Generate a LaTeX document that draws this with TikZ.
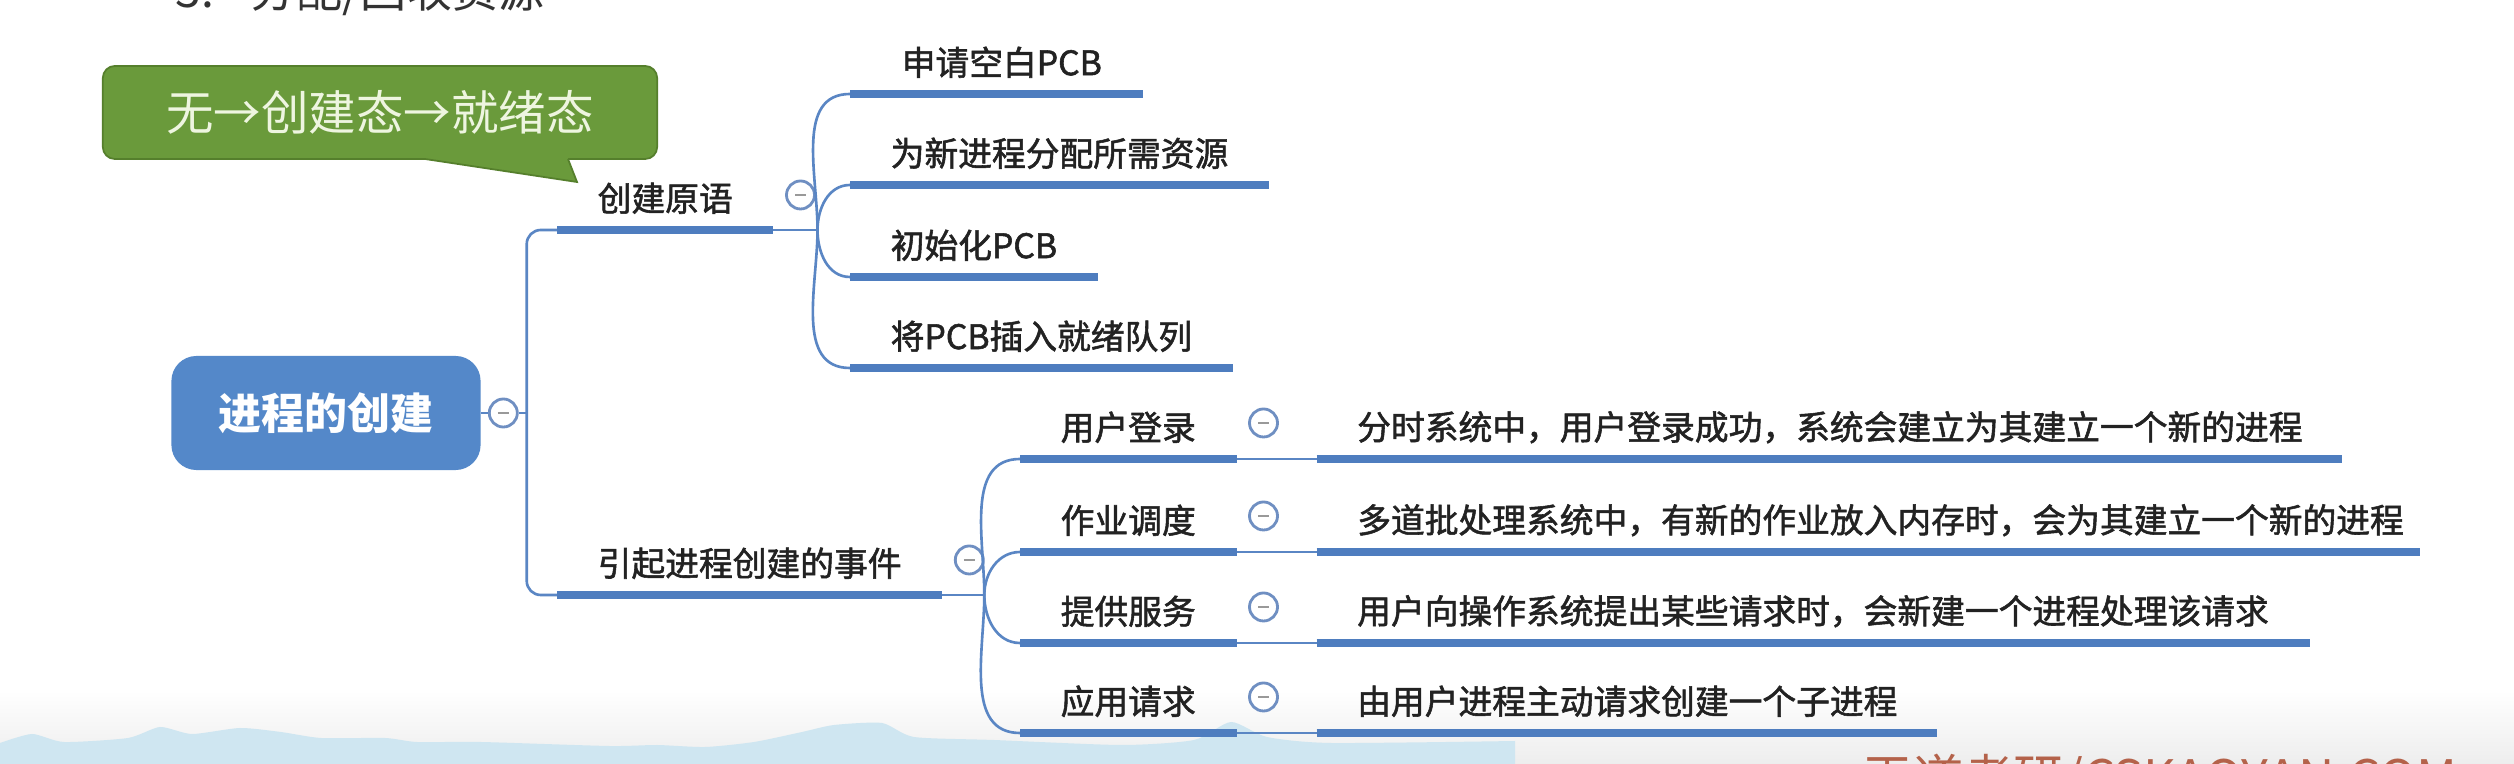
\documentclass[tikz,border=0pt]{standalone}
\usepackage{fontspec}
\setmainfont{Noto Sans CJK SC}
\newfontfamily\topicfont{Noto Sans CJK SC}[FakeBold=1.6]
\usetikzlibrary{positioning}
\definecolor{mapBlue}{HTML}{4E7DBF}
\definecolor{mapLine}{HTML}{5A86C4}
\definecolor{rootBlue}{HTML}{5488C9}
\definecolor{toggleEdge}{HTML}{6F8FC2}
\definecolor{noteGreen}{HTML}{6A9A3B}
\definecolor{noteEdge}{HTML}{557F2C}
\definecolor{noteText}{HTML}{EEF5E0}
\definecolor{hillBlue}{HTML}{CFE6F1}
\definecolor{markRed}{HTML}{B4624A}
\definecolor{inkDark}{HTML}{222222}

\begin{document}
\begin{tikzpicture}[x=0.01cm, y=-0.01cm,
    topic/.style={inner xsep=0.4cm, inner ysep=0pt, minimum height=0.62cm,
                  font=\topicfont\fontsize{9.6pt}{11pt}\selectfont\color{inkDark}, anchor=south west},
    detail/.style={topic, text width=#1, align=left},
    rootbox/.style={rectangle, rounded corners=0.25cm, fill=rootBlue,
                 minimum width=3.09cm, minimum height=1.14cm,
                 font=\fontsize{12.2pt}{14pt}\selectfont\bfseries\color{white}},
    note/.style={rectangle, rounded corners=0.12cm, fill=noteGreen, draw=noteEdge,
                 line width=0.5pt, minimum width=5.54cm, minimum height=0.93cm,
                 font=\fontsize{13.5pt}{16pt}\selectfont\color{noteText}},
    toggle/.style={circle, draw=toggleEdge, line width=0.8pt, fill=white,
                 minimum size=0.28cm, inner sep=0pt,
                 path picture={\draw[black!40, line width=0.6pt]
                   ([xshift=-0.055cm]path picture bounding box.center) --
                   ([xshift=0.055cm]path picture bounding box.center);}},
    link/.style={draw=mapLine, line width=0.75pt},
    bar/.style={draw=mapBlue, line width=2.3pt},
  ]
    \useasboundingbox (0,0) rectangle (2514,764);
    \clip (0,0) rectangle (2514,764);
    \fill[white] (0,0) rectangle (2514,764);
    \shade[top color=white, bottom color=black!7] (0,690) rectangle (2514,764);
    \fill[hillBlue] plot[smooth, tension=0.4] coordinates {(0,743) (32,734) (64,742)
      (128,738) (160,727) (192,734) (240,728) (281,732) (321,738) (385,738) (417,742)
      (481,742) (609,746) (657,745) (705,747) (754,742) (802,732) (834,725) (882,723)
      (914,737) (994,740) (1122,745) (1194,740) (1231,722) (1267,737) (1331,743) (1515,741)}
      -- (1515,764) -- (0,764) -- cycle;
    \node[anchor=base west, inner sep=0pt, font=\fontsize{14.3pt}{16pt}\selectfont\color{markRed}]
      (mark) at (1862,797) {王道考研/CSKAOYAN.COM};
    \node[anchor=base west, inner sep=0pt, font=\fontsize{13.1pt}{15pt}\selectfont\color{black!80}]
      (heading) at (175,8) {3.\hspace{0.36cm}分配/回收资源};

    \node[note] (state) at (380,112.5) {无→创建态→就绪态};
    \fill[noteGreen] (425,155) -- (425,159) -- (577,182) -- (568,159) -- (568,155) -- cycle;
    \draw[noteEdge, line width=0.5pt] (425,159) -- (577,182) -- (568,159);

    \node[rootbox] (root) at (326,413) {进程的创建};
    \node[toggle] (rootT) at ([xshift=0.22cm]root.east) {};
    \coordinate (trunk) at ([xshift=0.08cm]rootT.east);

    \node[topic] (prim) at (557,230) {创建原语};
    \node[topic] (event) at (557,595) {引起进程创建的事件};
    \node[toggle] (primT) at ([xshift=0.27cm, yshift=0.35cm]prim.south east) {};
    \node[toggle] (eventT) at ([xshift=0.27cm, yshift=0.35cm]event.south east) {};
    \coordinate[right=0.44cm of prim.south east] (primFork);
    \coordinate[right=0.42cm of event.south east] (eventFork);

    \node[topic] (p1) at (850,94) {\hspace{0.11cm}申请空白PCB};
    \node[topic] (p2) at (850,185) {为新进程分配所需资源};
    \node[topic] (p3) at (850,277) {初始化PCB};
    \node[topic] (p4) at (850,368) {将PCB插入就绪队列};

    \node[topic] (e1) at (1020,459) {用户登录};
    \node[topic] (e2) at (1020,552) {作业调度};
    \node[topic] (e3) at (1020,643) {提供服务};
    \node[topic] (e4) at (1020,733) {应用请求};
    \foreach \e in {e1, e2, e3, e4}
      \node[toggle] (\e T) at ([xshift=0.27cm, yshift=0.36cm]\e.south east) {};

    \node[detail=9.43cm] (d1) at ([xshift=0.8cm]e1.south east) {分时系统中，用户登录成功，系统会建立为其建立一个新的进程};
    \node[detail=10.21cm] (d2) at ([xshift=0.8cm]e2.south east) {多道批处理系统中，有新的作业放入内存时，会为其建立一个新的进程};
    \node[detail=9.11cm] (d3) at ([xshift=0.8cm]e3.south east) {用户向操作系统提出某些请求时，会新建一个进程处理该请求};
    \node[detail=5.39cm] (d4) at ([xshift=0.8cm]e4.south east) {由用户进程主动请求创建一个子进程};

    \draw[link] (root) -- (rootT);
    \draw[link] (rootT) -- (trunk);
    \draw[link, rounded corners=0.14cm] (prim.south west) -| (trunk) |- (event.south west);
    \draw[link] (prim.south east) -- (primFork);
    \draw[link] (event.south east) -- (eventFork);
    \foreach \n/\a in {p1/90, p2/90, p3/-90, p4/-90}
      \draw[link] (primFork) to[out=\a, in=180] (\n.south west);
    \foreach \n/\a in {e1/90, e2/90, e3/-90, e4/-90}
      \draw[link] (eventFork) to[out=\a, in=180] (\n.south west);
    \foreach \n in {1,...,4}
      \draw[link] (e\n.south east) -- (d\n.south west);
    \foreach \n in {prim, event, p1, p2, p3, p4, e1, e2, e3, e4, d1, d2, d3, d4}
      \draw[bar] (\n.south west) -- (\n.south east);
  \end{tikzpicture}
\end{document}
